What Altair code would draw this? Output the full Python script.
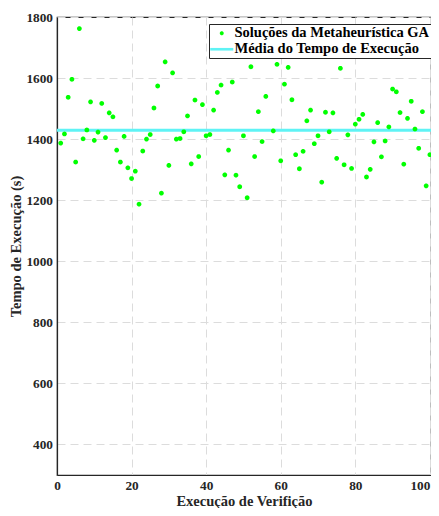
import math
import altair as alt
import pandas as pd

# ---- data ----
run_index = list(range(1, 57)) + list(range(58, 101))
exec_time = [
    1387, 1417, 1537, 1596, 1325, 1762, 1401, 1430, 1522, 1396,
    1423, 1517, 1405, 1486, 1473, 1364, 1325, 1409, 1306, 1271,
    1295, 1187, 1361, 1400, 1415, 1502, 1574, 1223, 1653, 1314,
    1617, 1400, 1402, 1424, 1476, 1319, 1528, 1343, 1513, 1411,
    1415, 1495, 1553, 1577, 1283, 1364, 1587, 1282, 1244, 1411,
    1208, 1637, 1343, 1490, 1392, 1540,
    1427, 1645, 1329, 1580, 1635, 1529, 1349, 1303, 1360, 1460,
    1495, 1385, 1411, 1259, 1488, 1424, 1486, 1337, 1632, 1316,
    1414, 1304, 1449, 1465, 1481, 1276, 1301, 1391, 1454, 1342,
    1394, 1440, 1564, 1555, 1487, 1318, 1468, 1524, 1433, 1370,
    1490, 1247, 1349,
]
mean_time = [1429]
series_names = ["Soluções da Metaheurística GA", "Média do Tempo de Execução"]
series_colors = ["#00ff00", "#5ff3f5"]
x_ticks = [0, 20, 40, 60, 80, 100]
y_ticks = [400, 600, 800, 1000, 1200, 1400, 1600, 1800]

FONT = "Liberation Serif"

# legend glyphs (unit symbol paths): a small round dot and a short thick bar
_r = 0.333
dot_path = "M" + " L".join(
    f"{_r * math.cos(2 * math.pi * k / 20):.4f},{_r * math.sin(2 * math.pi * k / 20):.4f}"
    for k in range(20)
) + " Z"
bar_path = "M-1.92,-0.22 L1.92,-0.22 L1.92,0.22 L-1.92,0.22 Z"

pts = pd.DataFrame({"x": run_index, "y": exec_time, "s": series_names[0]})
mean_df = pd.DataFrame({"y": mean_time})

legend = alt.Legend(
    title=None,
    orient="none",
    legendX=152,
    legendY=7,
    strokeColor="#262626",
    fillColor="white",
    padding=2,
    rowPadding=1,
    symbolSize=144,
    symbolOffset=3.5,
    symbolStrokeWidth=0,
    labelOffset=5.5,
    labelFont=FONT,
    labelFontSize=14.5,
    labelFontWeight="bold",
    labelColor="black",
    labelLimit=400,
)

y_scale = alt.Scale(domain=[300, 1800], nice=False, zero=False)

points = alt.Chart(pts).mark_point(filled=True, size=207, opacity=1, strokeWidth=0).encode(
    x=alt.X(
        "x:Q",
        scale=alt.Scale(domain=[0, 100.3], nice=False, zero=False),
        axis=alt.Axis(
            values=x_ticks, format="d", title="Execução de Verifição",
            labelPadding=3, titlePadding=3,
            labelAlign={"expr": "datum.value >= 100 ? 'right' : 'center'"},
        ),
    ),
    y=alt.Y(
        "y:Q",
        scale=y_scale,
        axis=alt.Axis(values=y_ticks, format="d", title="Tempo de Execução (s)",
                      labelPadding=4.5, titlePadding=2),
    ),
    color=alt.Color("s:N", scale=alt.Scale(domain=series_names, range=series_colors), legend=legend),
    shape=alt.Shape("s:N", scale=alt.Scale(domain=series_names, range=[dot_path, bar_path]), legend=legend),
)

mean_rule = alt.Chart(mean_df).mark_rule(strokeWidth=3, color=series_colors[1]).encode(
    y=alt.Y("y:Q", scale=y_scale),
)

chart = (
    alt.layer(mean_rule, points)
    .properties(
        width=374,
        height=458,
        autosize=alt.AutoSizeParams(type="none"),
        padding={"left": 49, "top": 9, "right": 0, "bottom": 33},
    )
    .configure_view(stroke="#262626", strokeWidth=1.2)
    .configure_axis(
        labelFont=FONT,
        labelFontSize=13.3,
        labelFontWeight="bold",
        labelColor="#262626",
        titleFont=FONT,
        titleFontSize=14.5,
        titleFontWeight="bold",
        titleColor="#262626",
        domainColor="#262626",
        domainWidth=1.2,
        ticks=False,
        grid=True,
        gridColor="#dcdcdc",
        gridDash=[8, 5],
        gridWidth=1,
    )
)

chart.save("out.html", embed_options={"renderer": "svg", "actions": False})
